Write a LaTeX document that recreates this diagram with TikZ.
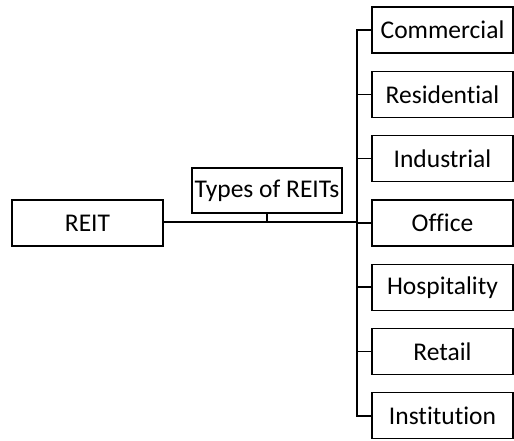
\documentclass[tikz,border=0pt]{standalone}
\usepackage{fontspec}
\setmainfont{Carlito}[Ligatures=NoCommon]
\begin{document}
\begin{tikzpicture}[x=1pt,y=-1pt,
  box/.style={draw=black,line width=1.3pt,minimum width=141pt,minimum height=46pt,inner sep=0pt,font=\fontsize{25.5}{27}\selectfont},
  conn/.style={draw=black,line width=1.6pt}]
\useasboundingbox (0,0) rectangle (514,440);
\node[box,minimum width=151pt] (reit) at (87.5,223) {REIT};
\node[box,minimum width=150pt,minimum height=45pt] (types) at (267,190.5) {Types of REITs};
\coordinate (trunk) at (357,222);
\node[box] (c1) at (442.5,30) {Commercial};
\node[box] (c2) at (442.5,94.3) {Residential};
\node[box] (c3) at (442.5,158.6) {Industrial};
\node[box] (c4) at (442.5,222.9) {Office};
\node[box] (c5) at (442.5,287.2) {Hospitality};
\node[box] (c6) at (442.5,351.5) {Retail};
\node[box] (c7) at (442.5,415.8) {Institution};
\draw[conn] (reit.east |- trunk) -- (trunk);
\draw[conn,line width=1.2pt] (types.south) -- (types.south |- trunk);
\draw[conn] (c1.west) -- (c1.west -| trunk) -- (c7.west -| trunk) -- (c7.west);
\foreach \i in {2,...,6} {\draw[conn] (c\i.west -| trunk) -- (c\i.west);}
\end{tikzpicture}
\end{document}
